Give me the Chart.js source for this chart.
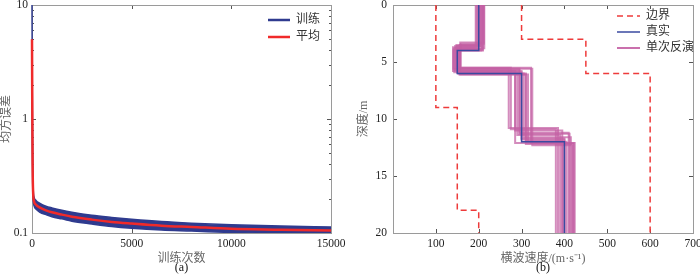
<!DOCTYPE html>
<html><head><meta charset="utf-8">
<script src="https://cdn.jsdelivr.net/npm/chart.js@4.4.0/dist/chart.umd.min.js"></script>
<style>
html,body{margin:0;padding:0;background:#fff;overflow:hidden}
#wrap{position:relative;width:700px;height:275px;background:#fff}
canvas{position:absolute;top:0}
#c1{left:0}
#c2{left:350px}
</style></head><body>
<div id="wrap"><canvas id="c1" width="350" height="275"></canvas><canvas id="c2" width="350" height="275"></canvas></div>
<script>
// ---------- (a) training curve data ----------
const iterations = [0, 15, 30, 60, 100, 200, 400, 700, 1000, 1500, 2000, 3000, 4000, 5000, 6500, 8000, 10000, 12500, 15000];
const meanMSE    = [5.0, 1.2, 0.4, 0.22, 0.19, 0.177, 0.167, 0.158, 0.152, 0.145, 0.139, 0.131, 0.125, 0.121, 0.116, 0.113, 0.109, 0.107, 0.105];
const trainUpper = [10, 1.7, 0.52, 0.245, 0.207, 0.193, 0.182, 0.172, 0.166, 0.158, 0.152, 0.143, 0.137, 0.132, 0.126, 0.122, 0.118, 0.115, 0.113];
const trainLower = [3.0, 0.85, 0.32, 0.197, 0.174, 0.162, 0.152, 0.145, 0.139, 0.133, 0.127, 0.120, 0.114, 0.110, 0.106, 0.104, 0.101, 0.099, 0.097];
const iterTicks = [0, 5000, 10000, 15000];
const mseTicks = [0.1, 1, 10];
const mseMinorTicks = [0.2, 0.3, 0.4, 0.5, 0.6, 0.7, 0.8, 0.9, 2, 3, 4, 5, 6, 7, 8, 9];

// ---------- (b) velocity profile data ----------
const depthMax = 20;
const lowerBoundVs = [100, 150, 200];
const lowerBoundDepths = [9, 18];
const upperBoundVs = [300, 450, 600];
const upperBoundDepths = [3, 6];
const trueVs = [200, 150, 300, 400];
const trueDepths = [4, 6, 12];
const invVs = [
  [200, 150, 300, 400], [205, 145, 295, 410], [210, 155, 310, 420], [195, 140, 285, 395],
  [212, 158, 322, 424], [200, 148, 270, 385], [208, 152, 305, 415], [198, 143, 290, 390],
  [211, 157, 315, 405], [203, 150, 275, 380], [206, 146, 325, 418], [193, 154, 300, 400],
  [209, 141, 295, 412], [201, 156, 310, 395], [213, 150, 285, 422]
];
const invDepths = [
  [3.9, 5.9, 11.8], [3.6, 5.7, 11.2], [4.0, 6.1, 12.2], [3.7, 5.8, 11.0],
  [3.4, 5.5, 12.1], [3.5, 5.6, 10.8], [3.9, 6.0, 11.6], [3.8, 5.9, 11.4],
  [3.3, 6.1, 12.0], [3.6, 5.5, 10.9], [4.0, 5.6, 12.3], [3.7, 5.8, 11.7],
  [3.9, 5.6, 11.3], [3.5, 6.0, 11.9], [3.8, 5.9, 12.1]
];
const velocityTicks = [0, 100, 200, 300, 400, 500, 600, 700];
const depthTicks = [0, 5, 10, 15, 20];

// ---------- helpers ----------
const SERIF = "'Liberation Serif','Noto Sans CJK SC',serif";
const FRAME = '#9a9a9a', TICKC = '#555', LABELC = '#222', TITLEC = '#666';
const BLUE = '#2f3b8f', RED = '#f02a2a', PINK = 'rgba(196,96,164,0.72)', TRUEBLUE = '#3a4aa0', BOUND = '#ee3b3b';

function stepProfile(vs, depths) {
  const pts = [];
  for (let i = 0; i < vs.length; i++) {
    const top = i === 0 ? 0 : depths[i - 1];
    const bot = i < depths.length ? depths[i] : depthMax;
    pts.push({x: vs[i], y: top}, {x: vs[i], y: bot});
  }
  return pts;
}
const xy = (xs, ys) => xs.map((x, i) => ({x, y: ys[i]}));

const framePlugin = {
  id: 'frame',
  beforeDatasetsDraw(chart, args, o) {
    const {ctx, chartArea: a} = chart;
    const xs = chart.scales.x, ys = chart.scales.y;
    ctx.save();
    ctx.lineWidth = 1;
    ctx.strokeStyle = TICKC;
    ctx.beginPath();
    o.xTicks.forEach(v => {
      const p = Math.round(xs.getPixelForValue(v)) + 0.5;
      ctx.moveTo(p, a.bottom); ctx.lineTo(p, a.bottom - 4);
      ctx.moveTo(p, a.top); ctx.lineTo(p, a.top + 4);
    });
    o.yTicks.forEach(v => {
      const p = Math.round(ys.getPixelForValue(v)) + 0.5;
      ctx.moveTo(a.left, p); ctx.lineTo(a.left + 4, p);
      ctx.moveTo(a.right, p); ctx.lineTo(a.right - 4, p);
    });
    (o.yMinor || []).forEach(v => {
      const p = Math.round(ys.getPixelForValue(v)) + 0.5;
      ctx.moveTo(a.left, p); ctx.lineTo(a.left + 2, p);
      ctx.moveTo(a.right, p); ctx.lineTo(a.right - 2, p);
    });
    ctx.stroke();
    ctx.strokeStyle = FRAME;
    ctx.strokeRect(Math.round(a.left) + 0.5, Math.round(a.top) + 0.5, Math.round(a.right - a.left), Math.round(a.bottom - a.top));
    ctx.restore();
  },
  afterDatasetsDraw(chart, args, o) {
    const {ctx, chartArea: a} = chart;
    ctx.save();
    o.legend.forEach((it, i) => {
      const y = o.legendY + i * o.legendGap;
      ctx.beginPath();
      ctx.strokeStyle = it.color; ctx.lineWidth = it.width;
      ctx.setLineDash(it.dash || []);
      ctx.moveTo(o.legendX, y); ctx.lineTo(o.legendX + o.sampleLen, y);
      ctx.stroke();
      ctx.setLineDash([]);
      ctx.fillStyle = '#333';
      ctx.font = "12px " + SERIF;
      ctx.textBaseline = 'middle'; ctx.textAlign = 'left';
      ctx.fillText(it.text, o.legendX + o.sampleLen + 6, y);
    });
    ctx.fillStyle = '#111';
    ctx.font = "12px " + SERIF;
    ctx.textAlign = 'center'; ctx.textBaseline = 'middle';
    ctx.fillText(o.caption, (a.left + a.right) / 2, 268);
    ctx.restore();
  }
};

function fixX(h) { return s => { s.height = h; s.paddingLeft = 0; s.paddingRight = 0; }; }
function fixY(w) { return s => { s.width = w; s.paddingTop = 0; s.paddingBottom = 0; }; }

// ---------- chart (a) ----------
new Chart(document.getElementById('c1'), {
  type: 'line',
  data: {
    datasets: [
      {data: xy(iterations, meanMSE), borderColor: RED, borderWidth: 2.5, pointRadius: 0, fill: false, cubicInterpolationMode: 'monotone', clip: 3},
      {data: xy(iterations, trainUpper), borderColor: BLUE, borderWidth: 1.5, pointRadius: 0, fill: false, cubicInterpolationMode: 'monotone', clip: 3},
      {data: xy(iterations, trainLower), borderColor: BLUE, borderWidth: 1.5, pointRadius: 0, fill: '-1', backgroundColor: BLUE, cubicInterpolationMode: 'monotone', clip: {left: 3, right: 3, top: 3, bottom: 0}}
    ]
  },
  options: {
    responsive: false, animation: false, devicePixelRatio: 1,
    layout: {padding: {top: 5, right: 19, bottom: 0, left: 0}},
    plugins: {
      legend: {display: false}, tooltip: {enabled: false},
      frame: {
        xTicks: iterTicks, yTicks: mseTicks, yMinor: mseMinorTicks, caption: '(a)',
        legendX: 268, legendY: 20, legendGap: 17, sampleLen: 22,
        legend: [{text: '训练', color: BLUE, width: 2.5}, {text: '平均', color: RED, width: 2.5}]
      }
    },
    scales: {
      x: {
        type: 'linear', min: 0, max: 15000,
        afterBuildTicks: s => { s.ticks = iterTicks.map(v => ({value: v})); },
        afterFit: fixX(42),
        grid: {display: false, drawTicks: false}, border: {display: false},
        ticks: {autoSkip: false, maxRotation: 0, padding: 4, color: LABELC, font: {family: SERIF, size: 11.5}, callback: v => String(v)},
        title: {display: true, text: '训练次数', color: TITLEC, font: {family: SERIF, size: 12}, padding: {top: 0, bottom: 9}}
      },
      y: {
        type: 'logarithmic', min: 0.1, max: 10,
        afterBuildTicks: s => { s.ticks = mseTicks.map(v => ({value: v})); },
        afterFit: fixY(32),
        grid: {display: false, drawTicks: false}, border: {display: false},
        ticks: {autoSkip: false, padding: 4, color: LABELC, font: {family: SERIF, size: 11.5}, callback: v => String(v)},
        title: {display: true, text: '均方误差', color: TITLEC, font: {family: SERIF, size: 12}, padding: {top: 0, bottom: 0}}
      }
    }
  },
  plugins: [framePlugin]
});

// ---------- chart (b) ----------
const ds2 = [
  {data: stepProfile(trueVs, trueDepths), borderColor: TRUEBLUE, borderWidth: 1.5},
  {data: stepProfile(lowerBoundVs, lowerBoundDepths), borderColor: BOUND, borderWidth: 1.5, borderDash: [6, 4]},
  {data: stepProfile(upperBoundVs, upperBoundDepths), borderColor: BOUND, borderWidth: 1.5, borderDash: [6, 4]}
];
invVs.forEach((vs, i) => ds2.push({data: stepProfile(vs, invDepths[i]), borderColor: PINK, borderWidth: 2}));
ds2.forEach(d => { d.showLine = true; d.pointRadius = 0; d.fill = false; });

new Chart(document.getElementById('c2'), {
  type: 'scatter',
  data: {datasets: ds2},
  options: {
    responsive: false, animation: false, devicePixelRatio: 1,
    layout: {padding: {top: 5, right: 7, bottom: 0, left: 0}},
    plugins: {
      legend: {display: false}, tooltip: {enabled: false},
      frame: {
        xTicks: velocityTicks, yTicks: depthTicks, caption: '(b)',
        legendX: 267, legendY: 16, legendGap: 16, sampleLen: 23,
        legend: [
          {text: '边界', color: BOUND, width: 1.5, dash: [6, 4]},
          {text: '真实', color: TRUEBLUE, width: 1.5},
          {text: '单次反演', color: 'rgba(196,96,164,0.9)', width: 2}
        ]
      }
    },
    scales: {
      x: {
        type: 'linear', min: 0, max: 700,
        afterBuildTicks: s => { s.ticks = velocityTicks.map(v => ({value: v})); },
        afterFit: fixX(42),
        grid: {display: false, drawTicks: false}, border: {display: false},
        ticks: {autoSkip: false, maxRotation: 0, padding: 4, color: LABELC, font: {family: SERIF, size: 11.5}, callback: v => v === 0 ? '' : String(v)},
        title: {display: true, text: '横波速度/(m·s⁻¹)', color: TITLEC, font: {family: SERIF, size: 12}, padding: {top: 0, bottom: 9}}
      },
      y: {
        type: 'linear', min: 0, max: depthMax, reverse: true,
        afterBuildTicks: s => { s.ticks = depthTicks.map(v => ({value: v})); },
        afterFit: fixY(43),
        grid: {display: false, drawTicks: false}, border: {display: false},
        ticks: {autoSkip: false, padding: 6, color: LABELC, font: {family: SERIF, size: 11.5}, callback: v => String(v)},
        title: {display: true, text: '深度/m', color: TITLEC, font: {family: SERIF, size: 12}, padding: {top: 7, bottom: 0}}
      }
    }
  },
  plugins: [framePlugin]
});
</script>
</body></html>
